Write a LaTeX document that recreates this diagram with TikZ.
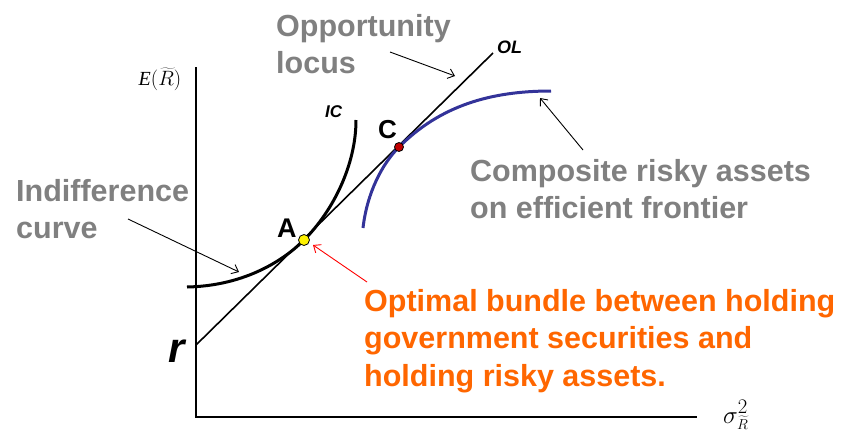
\documentclass[tikz,border=0pt]{standalone}
\usepackage{fontspec}
\setmainfont{Liberation Sans}
\newfontfamily\timesfont{Liberation Serif}
\usetikzlibrary{arrows.meta}
\definecolor{txtgray}{RGB}{128,128,128}
\definecolor{optorange}{RGB}{255,102,0}
\definecolor{frontblue}{RGB}{51,51,153}
\definecolor{cred}{RGB}{192,0,0}
\tikzset{
  bigtxt/.style={inner sep=0pt, align=left, font=\fontsize{30.5}{37.5}\selectfont\bfseries},
  graytxt/.style={bigtxt, text=txtgray},
  orangetxt/.style={bigtxt, text=optorange},
  thinarrow/.style={line width=0.9pt, -{Straight Barb[length=6pt,width=10pt]}},
  axisline/.style={line width=2.4pt},
  curveline/.style={line width=3pt},
  dotstyle/.style={circle, draw=black, line width=0.8pt, minimum size=11pt, inner sep=0pt},
  lbl/.style={inner sep=0pt, anchor=base west}
}
\begin{document}
\begin{tikzpicture}[x=1pt,y=-1pt]
\useasboundingbox (0,0) rectangle (844,432);
% axes
\coordinate (ytop) at (196,67);
\coordinate (orig) at (196,417);
\coordinate (xend) at (697,417);
\draw[axisline] (ytop) -- (orig) -- (xend);
% opportunity locus line
\coordinate (rpt) at (196,345);
\coordinate (olend) at (493,53);
\draw[line width=1.6pt] (rpt) -- (olend);
% indifference curve
\coordinate (icstart) at (187,287);
\coordinate (Apt) at (304,240);
\coordinate (icend) at (356,120);
\draw[curveline] (icstart) .. controls (240,286) and (280,264) .. (Apt)
  .. controls (333,211) and (356,165) .. (icend);
% efficient frontier
\coordinate (frstart) at (363,228);
\coordinate (Cpt) at (399,147);
\coordinate (frend) at (551,91);
\draw[curveline, frontblue] (frstart) .. controls (367,193) and (382,164) .. (Cpt)
  .. controls (440,106) and (490,91) .. (frend);
% points
\node[dotstyle, fill=yellow] (A) at (Apt) {};
\node[dotstyle, fill=cred, minimum size=9pt] (C) at (Cpt) {};
% labels
\node[lbl, font=\fontsize{27}{27}\selectfont\bfseries] (Alab) at (277,237) {A};
\node[lbl, font=\fontsize{26}{26}\selectfont\bfseries] (Clab) at (378,138) {C};
\node[lbl, font=\fontsize{17}{17}\selectfont\bfseries\itshape] (IClab) at (325,117) {IC};
\node[lbl, font=\fontsize{18}{18}\selectfont\bfseries\itshape] (OLlab) at (497,53) {OL};
\node[lbl, font=\fontsize{42}{42}\selectfont\bfseries\itshape] (rlab) at (168,362) {r};
\node[inner sep=0pt, font=\fontsize{20}{20}\selectfont] (Elab) at (160,79) {{\timesfont\itshape E}$(\widetilde{R})$};
\node[lbl, font=\fontsize{30}{30}\selectfont] (siglab) at (723,423) {$\sigma^{2}_{\scriptscriptstyle\widetilde{R}}$};
% annotation texts (base anchor = baseline of last line)
\node[graytxt, anchor=base west] (opp) at (276,73.5) {Opportunity\\locus};
\node[graytxt, anchor=base west] (indiff) at (16,238.5) {Indifference\\curve};
\node[graytxt, anchor=base west] (comp) at (470,218.5) {Composite risky assets\\on efficient frontier};
\node[orangetxt, anchor=base west] (opt) at (364,386) {Optimal bundle between holding\\government securities and\\holding risky assets.};
% annotation arrows
\coordinate (oppA) at (390,52);
\coordinate (oppB) at (455,76);
\draw[thinarrow] (oppA) -- (oppB);
\coordinate (indA) at (128,219);
\coordinate (indB) at (239,272);
\draw[thinarrow] (indA) -- (indB);
\coordinate (compA) at (583,150);
\coordinate (compB) at (540,98);
\draw[thinarrow] (compA) -- (compB);
\coordinate (optA) at (367,282);
\coordinate (optB) at (313,245);
\draw[thinarrow, red] (optA) -- (optB);
\end{tikzpicture}
\end{document}
